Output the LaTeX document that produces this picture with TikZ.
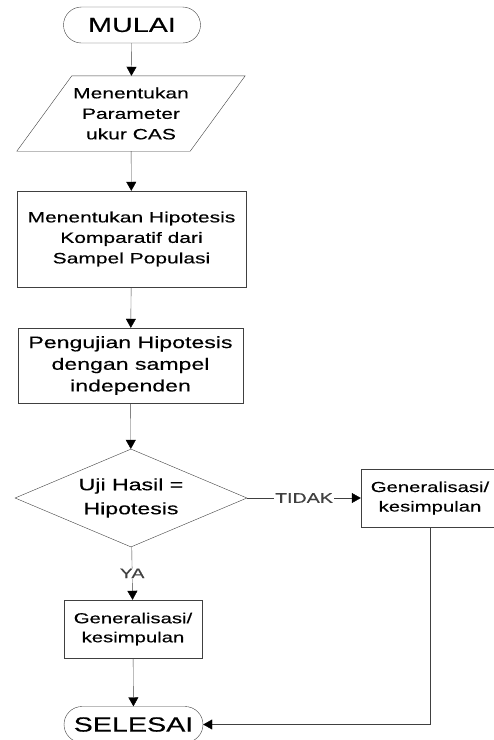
\documentclass[tikz,border=0pt]{standalone}
\usepackage{fontspec}
\setmainfont{Liberation Sans}[FakeStretch=1.4, FakeBold=0.3]
\usetikzlibrary{arrows.meta, shapes.geometric, positioning}

\begin{document}
\begin{tikzpicture}[
    x=1pt, y=-1pt,
    every node/.style={align=center, inner sep=0pt, font=\fontsize{15}{20.5}\selectfont},
    terminal/.style={draw=black!75, rectangle, rounded corners=18pt, minimum width=137pt, minimum height=36pt, font=\fontsize{20.5}{24}\selectfont},
    process/.style={draw=black!75, rectangle},
    io/.style={rectangle, minimum width=173pt, minimum height=75pt},
    decision/.style={draw=black!75, diamond, aspect=2.37, minimum width=232pt, minimum height=98pt, font=\fontsize{16.5}{24}\selectfont},
    arrow/.style={-{Triangle[length=9pt, width=10pt, black]}, draw=black!75},
    answer/.style={fill=white, text=black!75, inner sep=1pt, font=\fontsize{14}{16}\selectfont}
]
\useasboundingbox (0,0) rectangle (494,740);

\node[terminal] (mulai) at (132,25) {MULAI};
\node[io] (param) at (131,113.5) {Menentukan\\Parameter\\ukur CAS};
\draw[black!75] ([xshift=27.5pt]param.north west) -- ([xshift=27.5pt]param.north east)
    -- ([xshift=-27.5pt]param.south east) -- ([xshift=-27.5pt]param.south west) -- cycle;
\node[process, minimum width=229pt, minimum height=96pt] (hipotesis) at (131.5,239) {Menentukan Hipotesis\\Komparatif dari\\Sampel Populasi};
\node[process, minimum width=225pt, minimum height=75pt, font=\fontsize{16.5}{21.7}\selectfont] (pengujian) at (130.5,365.5) {Pengujian Hipotesis\\dengan sampel\\independen};
\node[decision] (uji) at (131,498) {Uji Hasil =\\Hipotesis};
\node[process, minimum width=138pt, minimum height=58pt, font=\fontsize{14.5}{19.5}\selectfont] (tidak) at (430,498) {Generalisasi/\\kesimpulan};
\node[process, minimum width=138pt, minimum height=58pt, font=\fontsize{14.5}{19}\selectfont] (ya) at (133,629) {Generalisasi/\\kesimpulan};
\node[terminal, minimum width=139pt] (selesai) at (133.5,724.5) {SELESAI};

\draw[arrow] (mulai) -- (param);
\draw[arrow] (param) -- (hipotesis);
\draw[arrow] (hipotesis) -- (pengujian);
\draw[arrow] (pengujian) -- (uji);
\draw[arrow] (uji) -- node[answer] {TIDAK} (tidak);
\draw[arrow] (uji) -- node[answer] {YA} (ya);
\draw[arrow] (ya) -- (selesai);
\draw[arrow] (tidak.south) |- (selesai.east);

\end{tikzpicture}
\end{document}
